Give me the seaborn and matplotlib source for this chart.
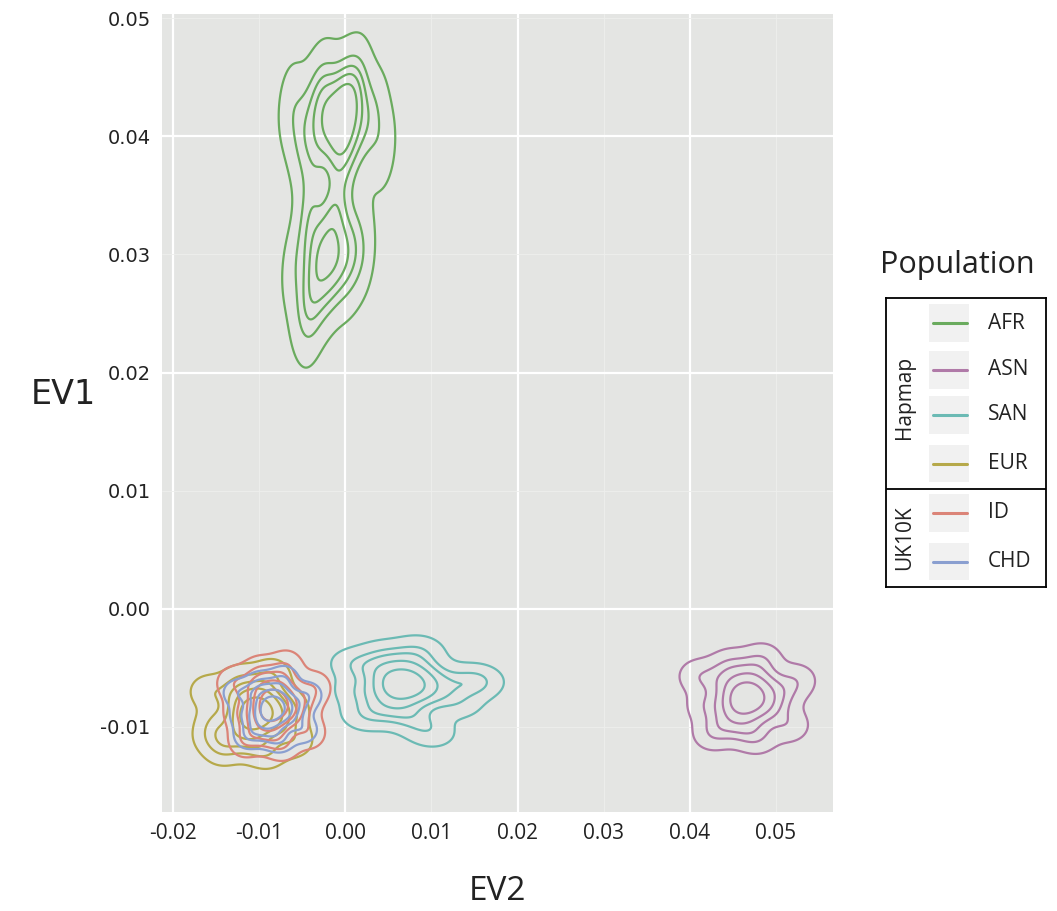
"""Density contours of the first two eigenvectors, by population."""

import matplotlib.pyplot as plt
import numpy as np
import pandas as pd
import seaborn as sns
from matplotlib.patches import Rectangle
from matplotlib.ticker import FuncFormatter, MultipleLocator

# --- data: sample positions (EV2, EV1) per population -----------------------
afr_ev2 = [-0.0008, 0.0005, -0.0018, -0.0001, -0.0023, 0.0017, -0.0036, 0.0023,
           -0.0030, -0.0002, -0.0011, 0.0035, -0.0053, 0.0012, -0.0026, 0.0007,
           -0.0046, 0.0045, -0.0064, -0.0004,
           -0.0018, -0.0004, -0.0029, -0.0010, -0.0032, 0.0010, -0.0043, 0.0004,
           -0.0035, -0.0015, -0.0021, 0.0021,
           -0.0010, -0.0040, -0.0050, -0.0040, -0.0060]
afr_ev1 = [0.0415, 0.0422, 0.0428, 0.0400, 0.0410, 0.0433, 0.0434, 0.0403,
           0.0395, 0.0440, 0.0392, 0.0420, 0.0408, 0.0446, 0.0442, 0.0382,
           0.0386, 0.0388, 0.0428, 0.0418,
           0.0300, 0.0306, 0.0310, 0.0288, 0.0293, 0.0318, 0.0320, 0.0282,
           0.0275, 0.0330, 0.0268, 0.0298,
           0.0343, 0.0345, 0.0255, 0.0240, 0.0290]

asn_ev2 = [0.0464, 0.0477, 0.0454, 0.0472, 0.0449, 0.0489, 0.0436, 0.0494,
           0.0441, 0.0469, 0.0462, 0.0506, 0.0419, 0.0484, 0.0446, 0.0479,
           0.0426, 0.0516, 0.0409, 0.0467, 0.0456, 0.0482, 0.0459, 0.0524]
asn_ev1 = [-0.0077, -0.0072, -0.0068, -0.0088, -0.0081, -0.0063, -0.0061, -0.0086,
           -0.0097, -0.0054, -0.0102, -0.0073, -0.0082, -0.0043, -0.0048, -0.0109,
           -0.0106, -0.0099, -0.0057, -0.0066, -0.0086, -0.0079, -0.0075, -0.0061]

san_ev2 = [0.0065, 0.0079, 0.0054, 0.0073, 0.0048, 0.0093, 0.0034, 0.0099,
           0.0040, 0.0071, 0.0062, 0.0113, 0.0015, 0.0087, 0.0045, 0.0082,
           0.0023, 0.0130, 0.0010, 0.0068, 0.0057, 0.0085, 0.0060, 0.0145,
           0.0100, 0.0155]
san_ev1 = [-0.0065, -0.0061, -0.0057, -0.0075, -0.0068, -0.0052, -0.0051, -0.0073,
           -0.0083, -0.0044, -0.0087, -0.0062, -0.0070, -0.0035, -0.0040, -0.0094,
           -0.0091, -0.0080, -0.0047, -0.0056, -0.0073, -0.0067, -0.0063, -0.0064,
           -0.0105, -0.0060]

eur_ev2 = [-0.0105, -0.0093, -0.0115, -0.0098, -0.0120, -0.0080, -0.0132, -0.0075,
           -0.0128, -0.0100, -0.0108, -0.0063, -0.0150, -0.0085, -0.0122, -0.0090,
           -0.0142, -0.0058, -0.0160, -0.0102, -0.0113, -0.0088, -0.0110, -0.0155]
eur_ev1 = [-0.0090, -0.0085, -0.0081, -0.0101, -0.0094, -0.0076, -0.0074, -0.0099,
           -0.0110, -0.0067, -0.0115, -0.0086, -0.0095, -0.0056, -0.0061, -0.0122,
           -0.0119, -0.0112, -0.0070, -0.0079, -0.0099, -0.0092, -0.0088, -0.0108]

id_ev2 = [-0.0085, -0.0074, -0.0094, -0.0079, -0.0098, -0.0064, -0.0108, -0.0060,
          -0.0104, -0.0081, -0.0087, -0.0049, -0.0123, -0.0068, -0.0100, -0.0072,
          -0.0117, -0.0041, -0.0131, -0.0083, -0.0091, -0.0070, -0.0089, -0.0035]
id_ev1 = [-0.0083, -0.0078, -0.0074, -0.0094, -0.0087, -0.0069, -0.0067, -0.0092,
          -0.0103, -0.0060, -0.0108, -0.0080, -0.0088, -0.0049, -0.0054, -0.0115,
          -0.0112, -0.0105, -0.0063, -0.0072, -0.0092, -0.0085, -0.0081, -0.0067]

chd_ev2 = [-0.0086, -0.0077, -0.0093, -0.0081, -0.0097, -0.0068, -0.0106, -0.0064,
           -0.0102, -0.0082, -0.0088, -0.0055, -0.0118, -0.0071, -0.0099, -0.0075,
           -0.0113, -0.0048, -0.0126, -0.0084, -0.0091, -0.0073, -0.0089, -0.0043]
chd_ev1 = [-0.0086, -0.0081, -0.0079, -0.0094, -0.0089, -0.0075, -0.0073, -0.0093,
           -0.0101, -0.0068, -0.0106, -0.0083, -0.0090, -0.0059, -0.0064, -0.0111,
           -0.0108, -0.0103, -0.0071, -0.0078, -0.0093, -0.0087, -0.0084, -0.0073]

populations = ["AFR", "ASN", "SAN", "EUR", "ID", "CHD"]
groups = {"Hapmap": ["AFR", "ASN", "SAN", "EUR"], "UK10K": ["ID", "CHD"]}
colors = ["#6aab5e", "#b07aa8", "#6bbab4", "#b6a94a", "#db8478", "#8a9fd0"]
bw_adjust = [0.75, 0.9, 0.9, 0.9, 0.9, 0.9]

ev2 = [afr_ev2, asn_ev2, san_ev2, eur_ev2, id_ev2, chd_ev2]
ev1 = [afr_ev1, asn_ev1, san_ev1, eur_ev1, id_ev1, chd_ev1]

df = pd.concat(
    [pd.DataFrame({"EV2": x, "EV1": y, "Population": p})
     for p, x, y in zip(populations, ev2, ev1)],
    ignore_index=True,
)
palette = dict(zip(populations, colors))

# --- figure -----------------------------------------------------------------
sns.set_style("white")
plt.rcParams["font.family"] = ["Open Sans", "DejaVu Sans"]

fig = plt.figure(figsize=(10.57, 9.11), dpi=100)
ax = fig.add_axes([0.153, 0.109, 0.635, 0.876])
ax.set_facecolor("#e4e5e3")

for pop, bw in zip(populations, bw_adjust):
    sub = df[df["Population"] == pop]
    sns.kdeplot(data=sub, x="EV2", y="EV1", ax=ax, color=palette[pop],
                levels=6, thresh=0.05, bw_adjust=bw, linewidths=1.6)

ax.set_xlim(-0.0213, 0.0566)
ax.set_ylim(-0.0172, 0.0504)

fmt = FuncFormatter(lambda v, _: f"{0.0 if abs(v) < 1e-9 else v:.2f}")
for axis in (ax.xaxis, ax.yaxis):
    axis.set_major_locator(MultipleLocator(0.02))
    axis.set_minor_locator(MultipleLocator(0.01))
    axis.set_major_formatter(fmt)
    axis.set_minor_formatter(fmt)

ax.grid(which="major", color="white", linewidth=1.6)
ax.grid(which="minor", color="#eeefed", linewidth=0.6)
ax.set_axisbelow(True)
for s in ax.spines.values():
    s.set_visible(False)

ax.tick_params(which="both", length=0, pad=8, colors="#222222")
ax.tick_params(axis="x", which="both", labelsize=15)
ax.tick_params(axis="y", which="both", labelsize=14)
for lab in ax.get_yticklabels(which="both"):
    lab.set_family("DejaVu Sans")

ax.set_xlabel("EV2", fontsize=24, color="#222222")
ax.xaxis.set_label_coords(0.5, -0.079)
ax.set_ylabel("EV1", fontsize=24, rotation=0, ha="center", va="center",
              color="#222222", family="DejaVu Sans")
ax.yaxis.set_label_coords(-0.147, 0.523)

# --- grouped legend -----------------------------------------------------------
fig.text(0.833, 0.709, "Population", fontsize=22, ha="left", va="center",
         color="#222222")
lax = fig.add_axes([0.838, 0.356, 0.152, 0.317])
lax.set_xlim(0, 1)
lax.set_ylim(0, 1)
lax.set_xticks([])
lax.set_yticks([])
for s in lax.spines.values():
    s.set_color("black")
    s.set_linewidth(1.3)

row_y = [0.913, 0.751, 0.595, 0.426, 0.256, 0.087]
for pop, yy in zip(populations, row_y):
    lax.add_patch(Rectangle((0.267, yy - 0.065), 0.25, 0.13,
                            facecolor="#f1f1f1", edgecolor="none"))
    lax.plot([0.292, 0.503], [yy, yy], color=palette[pop], linewidth=2.2)
    lax.text(0.634, yy, pop, fontsize=15, va="center", ha="left",
             color="#222222")

lax.axhline(0.339, color="black", linewidth=1.3)
group_y = {"Hapmap": 0.657, "UK10K": 0.168}
for name in groups:
    lax.text(0.118, group_y[name], name, fontsize=15, rotation=90,
             ha="center", va="center", color="#222222")

fig.savefig("out.png", dpi=100)
